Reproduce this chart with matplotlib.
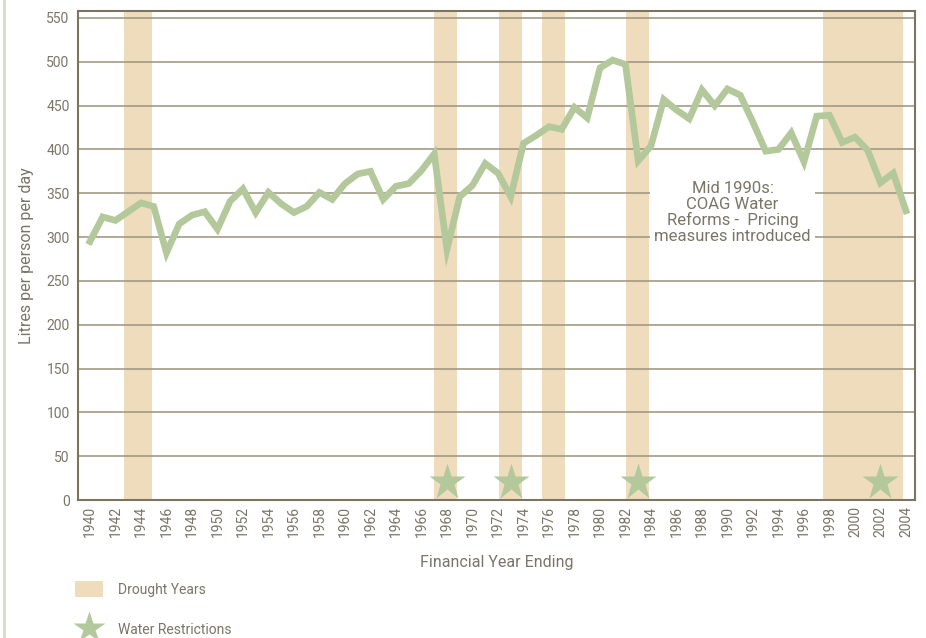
import numpy as np
import matplotlib
matplotlib.use("Agg")
import matplotlib.pyplot as plt
from matplotlib.patches import Patch
from matplotlib.lines import Line2D

# annual consumption, litres per person per day
years = list(range(1940, 2005))
litres = [295, 323, 319, 329, 339, 335, 282, 315, 325, 329,
          309, 341, 355, 328, 351, 338, 328, 335, 351, 343,
          361, 372, 375, 343, 358, 361, 376, 395, 286, 346,
          359, 384, 373, 346, 407, 416, 426, 423, 448, 436,
          493, 502, 497, 387, 404, 457, 445, 435, 468, 450,
          469, 462, 431, 398, 400, 419, 386, 438, 439, 408,
          414, 399, 362, 373, 330]

# drought bands (start, end) in years
drought_start = [1942.7, 1967.0, 1972.1, 1975.45, 1982.05, 1997.5]
drought_end = [1944.85, 1968.8, 1973.9, 1977.25, 1983.85, 2003.75]

# water restrictions
restrict_years = [1968, 1973, 1983, 2002]
restrict_level = [21, 21, 21, 21]

line_col = "#b3c99b"
band_col = "#efdcbd"
grid_col = "#9b927c"
text_col = "#7a7566"
frame_col = "#7d745f"

plt.rcParams['font.family'] = ['Roboto', 'DejaVu Sans']

fig = plt.figure(figsize=(9.26, 6.38), dpi=100)
ax = fig.add_axes([0.0842, 0.2163, 0.9038, 0.7665])

for s, e in zip(drought_start, drought_end):
    ax.axvspan(s, e, color=band_col, lw=0, zorder=1)

ax.set_yticks(np.arange(0, 551, 50))
ax.yaxis.grid(True, color=grid_col, lw=1.1, zorder=2)
ax.set_axisbelow(False)
for gl in ax.get_ygridlines():
    gl.set_zorder(2)

ax.plot(years, litres, color=line_col, lw=4.8, solid_joinstyle="miter", zorder=4)
ax.plot(restrict_years, restrict_level, ls="none", marker="*", ms=28,
        color=line_col, mec="none", zorder=5, clip_on=False)

ax.text(1990.4, 328, "Mid 1990s:\nCOAG Water\nReforms -  Pricing\nmeasures introduced",
        ha="center", va="center", fontsize=12, color=text_col, linespacing=1.05,
        bbox=dict(facecolor="white", edgecolor="none", pad=3), zorder=3)

ax.set_xlim(1939.06, 2004.7)
ax.set_ylim(0, 558)
ax.set_xticks(range(1940, 2005, 2))
ax.set_xticklabels([str(y) for y in range(1940, 2005, 2)], rotation=90)
ax.tick_params(axis="both", length=0, labelsize=10, labelcolor=text_col)
ax.tick_params(axis="y", pad=6)
ax.tick_params(axis="x", pad=4)
for sp in ax.spines.values():
    sp.set_color(frame_col)
    sp.set_linewidth(1.5)
    sp.set_zorder(7)

ax.set_ylabel("Litres per person per day", fontsize=11.5, color=text_col, labelpad=9)
ax.set_xlabel("Financial Year Ending", fontsize=11.5, color=text_col, labelpad=13)

handles = [Patch(facecolor=band_col, edgecolor="none"),
           Line2D([], [], ls="none", marker="*", ms=24, color=line_col, mec="none")]
fig.legend(handles, ["Drought Years", "Water Restrictions"], loc="upper left",
           bbox_to_anchor=(0.075, 0.098), frameon=False, fontsize=10,
           labelcolor=text_col, handlelength=2.0, handleheight=1.4,
           handletextpad=1.1, labelspacing=1.75, borderaxespad=0)

# page border line on the left
fig.add_artist(Line2D([0.0045, 0.0045], [0, 1], transform=fig.transFigure,
                      color="#d9dcc2", lw=2))

fig.savefig("out.png", dpi=100)
